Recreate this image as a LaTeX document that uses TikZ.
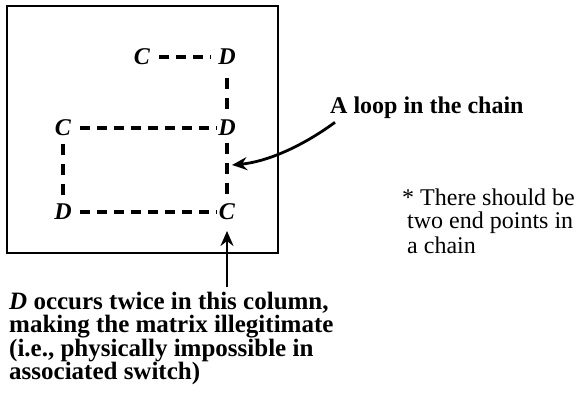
\documentclass[tikz,border=0pt]{standalone}
\usepackage{fontspec}
\setmainfont{Liberation Serif}
\usetikzlibrary{arrows.meta}
\begin{document}
\begin{tikzpicture}[x=1pt,y=-1pt,
  letter/.style={inner sep=0pt,font=\fontsize{24}{24}\selectfont\bfseries\itshape},
  chain/.style={line width=4.5pt,dash pattern=on 10pt off 7pt},
  vchain/.style={line width=4.5pt,dash pattern=on 11pt off 9pt},
  pointer/.style={line width=2.8pt,-{Stealth[length=15pt,width=13pt,inset=5pt]}},
  frame/.style={draw,line width=2pt,minimum width=271pt,minimum height=247pt,inner sep=0pt},
  label/.style={inner sep=0pt,anchor=base west}]
\useasboundingbox (0,0) rectangle (584,401);
\node[frame] (box) at (142.5,129.5) {};
\node[letter] (c1) at (142,57) {C};
\node[letter] (d1) at (227,57) {D};
\node[letter] (c2) at (63,128) {C};
\node[letter] (d2) at (227,128) {D};
\node[letter] (d3) at (63,212) {D};
\node[letter] (c3) at (227,212) {C};
\draw[chain,shorten <=17pt,shorten >=16pt] (c1.center) -- (d1.center);
\draw[chain,shorten <=17pt,shorten >=10pt] (c2.center) -- (d2.center);
\draw[chain,shorten <=17pt,shorten >=10pt] (d3.center) -- (c3.center);
\draw[vchain,shorten <=21pt,shorten >=17pt] (d1.center) -- (d2.center);
\draw[vchain,shorten <=15pt,shorten >=18pt] (d2.center) -- (c3.center);
\draw[vchain,shorten <=16pt,shorten >=17pt] (c2.center) -- (d3.center);
\node[label,font=\fontsize{24}{24}\selectfont\bfseries] (loop) at (330,114) {A loop in the chain};
\coordinate (loopend) at (232,165);
\draw[pointer] ([shift={(5,3)}]loop.south west) .. controls (300,148) and (265,162) .. (loopend);
\node[label] (why) at (9,309) {\parbox[t]{360pt}{\fontsize{25}{23.5}\selectfont\bfseries
  \textit{D} occurs twice in this column,\\
  making the matrix illegitimate\\
  (i.e., physically impossible in\\
  associated switch)}};
\coordinate (whytop) at ([yshift=4pt]c3 |- why.north);
\coordinate (whytip) at ([yshift=-19pt]c3.center);
\draw[pointer] (whytop) -- (whytip);
\node[label] (note) at (402,205) {\parbox[t]{180pt}{\fontsize{24}{24}\selectfont
  * There should be\\
  \hspace*{5pt}two end points in\\
  \hspace*{5pt}a chain}};
\end{tikzpicture}
\end{document}
